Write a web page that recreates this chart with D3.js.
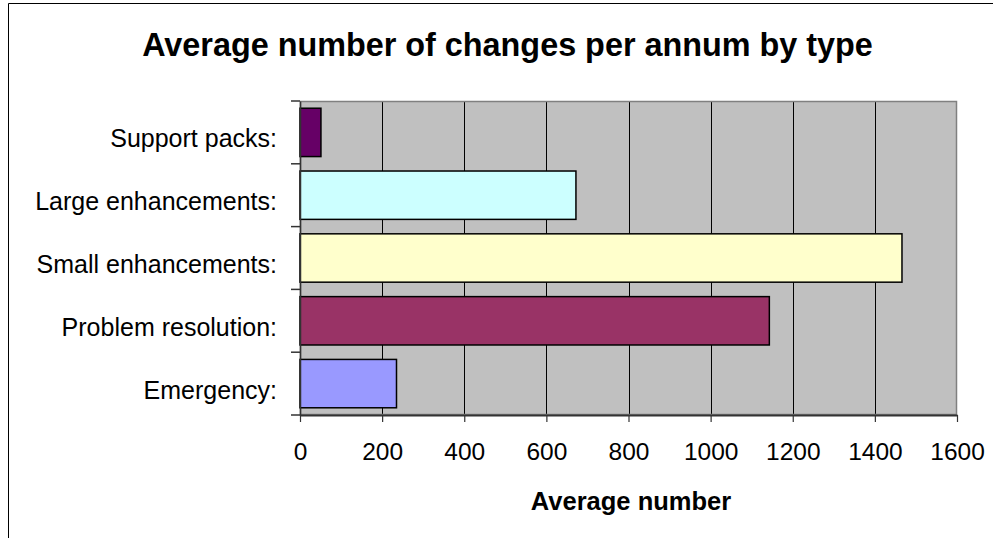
<!DOCTYPE html>
<html><head><meta charset="utf-8">
<script src="https://cdn.jsdelivr.net/npm/d3@7/dist/d3.min.js"></script>
<style>body{margin:0;background:#fff}svg{display:block}text{font-family:"Liberation Sans",Arial,sans-serif}</style>
</head><body><svg id="c" width="993" height="538"></svg>
<script>
const categories = ["Support packs:", "Large enhancements:", "Small enhancements:", "Problem resolution:", "Emergency:"];
const values = [51, 672, 1466, 1143, 235];
const colors = ["#660066", "#CCFFFF", "#FFFFCC", "#993366", "#9999FF"];
const xTicks = [0, 200, 400, 600, 800, 1000, 1200, 1400, 1600];
const title = "Average number of changes per annum by type";
const xTitle = "Average number";

const svg = d3.select("#c");
const L = 300, R = 957, T = 101, B = 415;

// outer border (left & top only visible)
svg.append("path").attr("d", `M8.5,538 V3.5 H993`).attr("fill", "none").attr("stroke", "#000").attr("stroke-width", 1);

const x = d3.scaleLinear().domain([0, 1600]).range([L, R]);
const y = d3.scaleBand().domain(categories).range([T, B]).paddingInner(0.23).paddingOuter(0.115);
const yb = d3.scaleBand().domain(categories).range([T, B]);

svg.append("rect").attr("x", L).attr("y", T).attr("width", R - L).attr("height", B - T).attr("fill", "#C0C0C0");

// gridlines
svg.append("g").selectAll("line").data(xTicks.slice(1, -1)).join("line")
  .attr("x1", d => Math.round(x(d)) + 0.5).attr("x2", d => Math.round(x(d)) + 0.5)
  .attr("y1", T).attr("y2", B).attr("stroke", "#000").attr("stroke-width", 1);

// plot border
svg.append("rect").attr("x", L + 0.5).attr("y", T + 0.5).attr("width", R - L - 1).attr("height", B - T - 1)
  .attr("fill", "none").attr("stroke", "#808080").attr("stroke-width", 1.5);

// bars
svg.append("g").selectAll("rect").data(categories).join("rect")
  .attr("x", x(0)).attr("y", d => y(d))
  .attr("width", (d, i) => x(values[i]) - x(0)).attr("height", y.bandwidth())
  .attr("fill", (d, i) => colors[i]).attr("stroke", "#000").attr("stroke-width", 1.5);

// y axis
const ya = svg.append("g").attr("transform", `translate(${L},0)`)
  .call(d3.axisLeft(yb).tickSize(0).tickPadding(23));
ya.select(".domain").attr("stroke", "#333").attr("stroke-width", 1.5);
ya.selectAll("text").attr("font-size", 25).attr("fill", "#000").attr("dy", "0.6em");
// y tick marks at band boundaries
svg.append("g").selectAll("line").data(d3.range(categories.length + 1)).join("line")
  .attr("x1", L - 9).attr("x2", L).attr("y1", i => T + i * yb.step()).attr("y2", i => T + i * yb.step())
  .attr("stroke", "#333").attr("stroke-width", 1.5);

// x axis
const xa = svg.append("g").attr("transform", `translate(0,${B})`)
  .call(d3.axisBottom(x).tickValues(xTicks).tickFormat(d3.format("d")).tickSize(7).tickPadding(21).tickSizeOuter(0));
xa.select(".domain").attr("stroke", "#333").attr("stroke-width", 2);
xa.selectAll(".tick line").attr("stroke", "#333").attr("stroke-width", 1.2);
xa.selectAll("text").attr("font-size", 24.5).attr("fill", "#000");

// titles
const t = svg.append("text").attr("x", 507.5).attr("y", 56).attr("text-anchor", "middle")
  .attr("font-weight", "bold").attr("font-size", 30).text(title);
const w = t.node().getComputedTextLength();
t.attr("font-size", 30 * 731 / w);

svg.append("text").attr("x", 631).attr("y", 510).attr("text-anchor", "middle")
  .attr("font-weight", "bold").attr("font-size", 25.5).text(xTitle);
</script></body></html>
